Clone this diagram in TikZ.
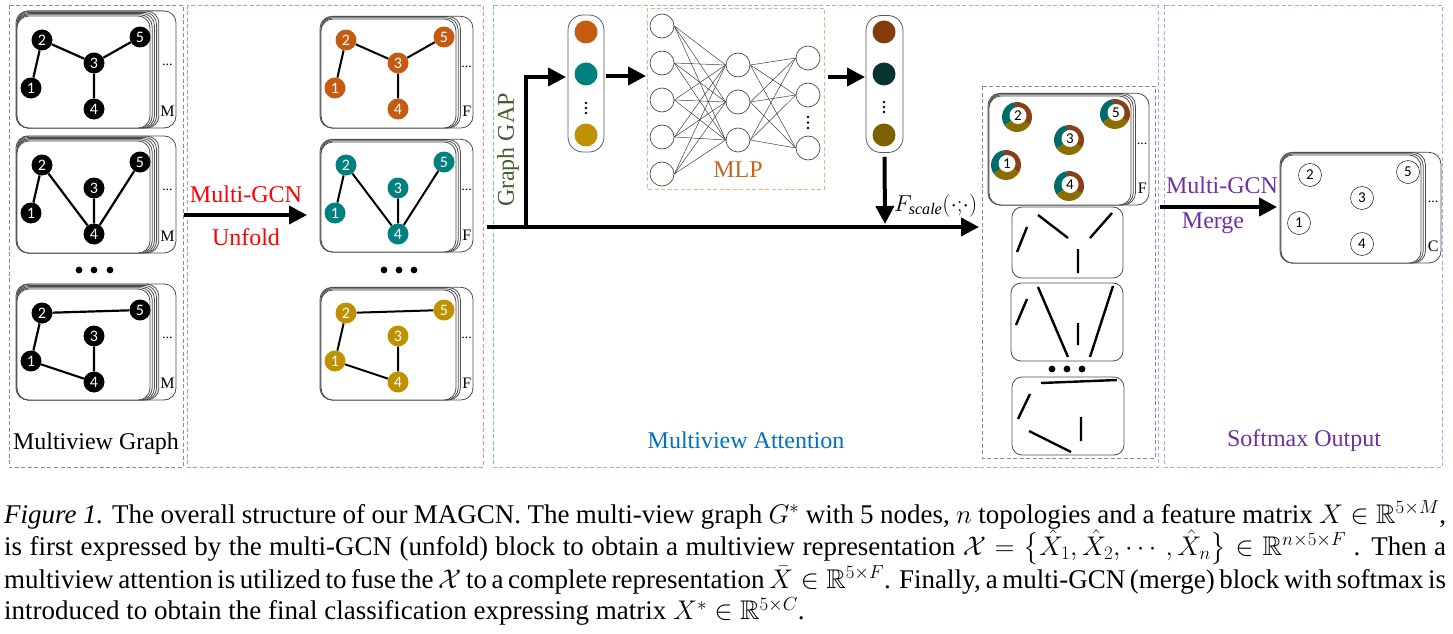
\RequirePackage{fix-cm}
\documentclass[tikz,border=0pt]{standalone}
\usepackage{amsmath,amssymb}
\usepackage[no-math]{fontspec}
\setmainfont{Liberation Serif}
\newfontfamily\numfont{Carlito}
\usetikzlibrary{arrows.meta}

\definecolor{cOr}{HTML}{C55A11}
\definecolor{cTe}{HTML}{00807F}
\definecolor{cGo}{HTML}{BF9000}
\definecolor{cBr}{HTML}{843C0C}
\definecolor{cDt}{HTML}{06332F}
\definecolor{cDg}{HTML}{7F6000}
\definecolor{cFt}{HTML}{006B68}
\definecolor{cFb}{HTML}{8B3F14}
\definecolor{cFg}{HTML}{8A6E00}
\definecolor{cRed}{HTML}{FF0000}
\definecolor{cBlue}{HTML}{0070C0}
\definecolor{cPurp}{HTML}{7030A0}
\definecolor{cGreen}{HTML}{3F5F2A}
\definecolor{cMLP}{HTML}{C8641E}
\definecolor{frGray}{HTML}{8C8C8C}
\definecolor{frRed}{HTML}{EE8A8A}
\definecolor{frBlue}{HTML}{8DB4E2}
\definecolor{frPurp}{HTML}{B9A0DA}
\definecolor{frMLP}{HTML}{F4B183}

\newcommand\myfs[1]{\fontsize{#1}{#1}\selectfont}

\tikzset{
  frame/.style={line width=0.9pt, dash pattern=on 4pt off 2.5pt},
  boxline/.style={draw=black!70, line width=0.8pt, rounded corners=12pt},
  gnode/.style={circle, minimum size=21pt, inner sep=0pt, text=white, font=\numfont\myfs{16}},
  gedge/.style={line width=2.2pt},
  bigarrow/.style={line width=4pt, -{Triangle[length=18pt,width=18pt]}},
  mlpnode/.style={circle, draw=black!70, line width=0.7pt, minimum size=24pt, inner sep=0pt, fill=white},
  mlpline/.style={line width=0.5pt, draw=black!75},
  pdot/.style={circle, minimum size=23pt, inner sep=0pt},
  pill/.style={draw=black!65, line width=0.8pt, rounded corners=15pt, minimum width=36pt, minimum height=137pt, inner sep=0pt},
  onode/.style={circle, draw=black!80, line width=0.6pt, minimum size=23pt, inner sep=0pt, font=\numfont\myfs{15}},
  inode/.style={circle, fill=white, minimum size=17pt, inner sep=0pt, font=\numfont\myfs{15}},
  lbl/.style={font=\myfs{24}, inner sep=0pt, anchor=base},
  seg/.style={line width=2.4pt},
  epanel/.style={draw=black!70, line width=0.8pt, rounded corners=10pt},
  smalltxt/.style={font=\myfs{14}, inner sep=0pt},
}

% #1 left, #2 front top, #3 front right, #4 back right, #5 bottom, #6 layers, #7 label
\newcommand\stackbox[7]{%
  \draw[boxline] ({#1-1},{#2-1.2*#6-0.3}) rectangle (#4,#5);
  \foreach \k in {#6,...,0}{\draw[boxline,fill=white] (#1,{#2-1.2*\k}) rectangle ({#3+2.2*\k},#5);}
  \node[smalltxt] at ({(#3+2.2*#6+#4)/2},{(#2+#5)/2-7}) {...};
  \node[font=\myfs{16},inner sep=0pt] at ({(#3+2.2*#6+#4)/2},{#5-17}) {#7};
}

% #1 prefix, #2 x shift, #3 y shift, #4 style
\newcommand\gnodes[4]{%
  \begin{scope}[shift={(#2,#3)}]
  \node[#4] (#1n1) at (31,76) {1};
  \node[#4] (#1n2) at (42,28) {2};
  \node[#4] (#1n3) at (94,51) {3};
  \node[#4] (#1n4) at (94,97) {4};
  \node[#4] (#1n5) at (140,25) {5};
  \end{scope}}

\newcommand\fusednode[4]{%
  \fill[cFt] (#2,#3) -- ++(-100:15) arc[start angle=-100, end angle=-215, radius=15] -- cycle;
  \fill[cFb] (#2,#3) -- ++(30:15) arc[start angle=30, end angle=-100, radius=15] -- cycle;
  \fill[cFg] (#2,#3) -- ++(-215:15) arc[start angle=-215, end angle=-330, radius=15] -- cycle;
  \node[inode] (#1) at ({#2+1},{#3-1.5}) {#4};
}

\begin{document}
\begin{tikzpicture}[x=1pt,y=-1pt]
\useasboundingbox (0,0) rectangle (1453,634);

% frames
\draw[frame, draw=frGray] (9,5) rectangle (183,467);
\draw[frame, draw=frRed] (187,5) rectangle (483,467);
\draw[frame, draw=frBlue] (493,5) rectangle (1158,467);
\draw[frame, draw=frPurp] (1164,5) rectangle (1442,467);
\draw[frame, draw=frGray] (982,86) rectangle (1155,458);
\draw[frame, draw=frMLP] (647,8) rectangle (824,189);

% ---------- multiview graph ----------
\stackbox{17}{16}{150}{176}{128}{4}{M}
\stackbox{17}{141}{150}{176}{253}{4}{M}
\stackbox{17}{289}{150}{176}{400}{4}{M}
\gnodes{mA}{0}{12}{gnode,fill=black}
\gnodes{mB}{0}{137}{gnode,fill=black}
\gnodes{mC}{0}{285}{gnode,fill=black}
\draw[gedge] (mAn1)--(mAn2) (mAn2)--(mAn3) (mAn3)--(mAn5) (mAn3)--(mAn4);
\draw[gedge] (mBn1)--(mBn2) (mBn2)--(mBn4) (mBn3)--(mBn4) (mBn4)--(mBn5);
\draw[gedge] (mCn2)--(mCn5) (mCn1)--(mCn2) (mCn1)--(mCn4) (mCn3)--(mCn4);
\foreach \xx in {79,94,110} \fill (\xx,270) circle[radius=3.4];
\node[lbl] (lmg) at (96,449) {Multiview Graph};

% ---------- unfold ----------
\stackbox{321}{19}{456}{473}{128}{2}{F}
\stackbox{321}{142}{456}{473}{252}{2}{F}
\stackbox{321}{290}{456}{473}{400}{2}{F}
\gnodes{uA}{304}{12}{gnode,fill=cOr}
\gnodes{uB}{304}{137}{gnode,fill=cTe}
\gnodes{uC}{304}{285}{gnode,fill=cGo}
\draw[gedge,line width=2pt] (uAn1)--(uAn2) (uAn2)--(uAn3) (uAn3)--(uAn5) (uAn3)--(uAn4);
\draw[gedge,line width=2pt] (uBn1)--(uBn2) (uBn2)--(uBn4) (uBn3)--(uBn4) (uBn4)--(uBn5);
\draw[gedge,line width=2pt] (uCn2)--(uCn5) (uCn1)--(uCn2) (uCn1)--(uCn4) (uCn3)--(uCn4);
\foreach \xx in {384,399,414} \fill (\xx,270) circle[radius=3.4];
\coordinate (unS) at (184,215);
\coordinate (unE) at (307,215);
\draw[bigarrow] (unS) -- (unE);
\node[lbl, text=cRed] (lmgcn) at (246,202) {Multi-GCN};
\node[lbl, text=cRed] (lunf) at (246,245) {Unfold};

% ---------- attention ----------
\coordinate (mainS) at (487,227);
\coordinate (mainE) at (979,227);
\coordinate (gapS) at (526,227);
\coordinate (gapE) at (566,77);
\draw[bigarrow] (mainS) -- (mainE);
\draw[bigarrow] (gapS) |- (gapE);
\node[font=\myfs{24}, text=cGreen, rotate=90, inner sep=0pt] (lgap) at (508,150) {Graph GAP};

\node[pill] (pillA) at (586,83.5) {};
\node[pdot, fill=cOr] (pa1) at (586,32) {};
\node[pdot, fill=cTe] (pa2) at (586,74) {};
\node[pdot, fill=cGo] (pa3) at (586,135) {};
\foreach \yy in {103,108,113} \fill (586,\yy) circle[radius=1.3];

\coordinate (m1S) at (606,76);
\coordinate (m1E) at (646,76);
\draw[bigarrow] (m1S) -- (m1E);

% MLP
\foreach \i/\yy in {1/26,2/63,3/100,4/137,5/174} \node[mlpnode] (in\i) at (662,\yy) {};
\foreach \i/\yy in {1/65,2/102,3/140} \node[mlpnode] (hd\i) at (738,\yy) {};
\foreach \i/\yy in {1/58,2/95,3/148} \node[mlpnode] (ou\i) at (808,\yy) {};
\foreach \i in {1,...,5} \foreach \h in {1,2,3} \draw[mlpline] (in\i.east) -- (hd\h.west);
\foreach \h in {1,2,3} \foreach \o in {1,2,3} \draw[mlpline] (hd\h.east) -- (ou\o.west);
\foreach \yy in {117,122.5,128} \fill (808,\yy) circle[radius=1.3];
\node[lbl, text=cMLP] (lmlp) at (738,177) {MLP};

\coordinate (m2S) at (828,77);
\coordinate (m2E) at (865,77);
\draw[bigarrow] (m2S) -- (m2E);

\node[pill, minimum width=37pt] (pillB) at (884.5,84) {};
\node[pdot, fill=cBr] (pb1) at (884,32) {};
\node[pdot, fill=cDt] (pb2) at (884,74) {};
\node[pdot, fill=cDg] (pb3) at (884,135) {};
\foreach \yy in {102,107,112} \fill (884,\yy) circle[radius=1.3];

\coordinate (fsc) at (885,224);
\draw[bigarrow] ([yshift=-4pt]pillB.south) -- (fsc);
\node[font=\myfs{23}, anchor=base west, inner sep=0pt] (lfs) at (894,211) {$F_{\textit{scale}}(\cdot{;}\cdot)$};

% fused graph
\stackbox{989}{96}{1131}{1149}{205}{2}{F}
\begin{scope}[shift={(975,89)}]
\fusednode{fn1}{31}{76}{1}
\fusednode{fn2}{42}{28}{2}
\fusednode{fn3}{94}{51}{3}
\fusednode{fn4}{94}{97}{4}
\fusednode{fn5}{140}{25}{5}
\end{scope}

% edge panels
\draw[epanel] (1012,207) rectangle (1123,278);
\draw[seg] (1017,252)--(1027,227) (1038,215)--(1068,238) (1090,238)--(1112,213) (1078,249)--(1078,273);
\draw[epanel] (1011,283) rectangle (1123,361);
\draw[seg] (1016,325)--(1027,299) (1038,287)--(1068,357) (1078,323)--(1078,345) (1090,357)--(1113,286);
\foreach \xx in {1052,1067,1082} \fill (\xx,369) circle[radius=3.4];
\draw[epanel] (1012,377) rectangle (1124,455);
\draw[seg] (1041,383)--(1117,380) (1018,419)--(1030,394) (1081,417)--(1081,441) (1029,431)--(1071,452);

\node[lbl, text=cBlue] (latt) at (746,448) {Multiview Attention};

% ---------- output ----------
\coordinate (mgS) at (1160,207);
\coordinate (mgE) at (1277,207);
\draw[bigarrow] (mgS) -- (mgE);
\node[lbl, text=cPurp] (lmg2) at (1222,193) {Multi-GCN};
\node[lbl, text=cPurp] (lmerge) at (1213,228) {Merge};
\stackbox{1281}{155}{1421}{1441}{263}{2}{C}
\gnodes{oA}{1268}{147}{onode}
\node[lbl, text=cPurp] (lsoft) at (1304,446) {Softmax Output};

% ---------- caption ----------
\node[anchor=base west, inner sep=0pt] (cap) at (4,523) {\parbox[t]{1442pt}{\fontsize{27}{31.3}\selectfont
\textit{Figure 1.} The overall structure of our MAGCN. The multi-view graph $G^{*}$ with 5 nodes, $n$ topologies and a feature matrix $X\in\mathbb{R}^{5\times M}$,\linebreak
is first expressed by the multi-GCN (unfold) block to obtain a multiview representation $\mathcal{X}=\bigl\{\hat{X}_1,\hat{X}_2,\cdots,\hat{X}_n\bigr\}\in\mathbb{R}^{n\times 5\times F}$ . Then a\linebreak
multiview attention is utilized to fuse the $\mathcal{X}$ to a complete representation $\bar{X}\in\mathbb{R}^{5\times F}$. Finally, a multi-GCN (merge) block with softmax is\linebreak
introduced to obtain the final classification expressing matrix $X^{*}\in\mathbb{R}^{5\times C}$.}};
\end{tikzpicture}
\end{document}
